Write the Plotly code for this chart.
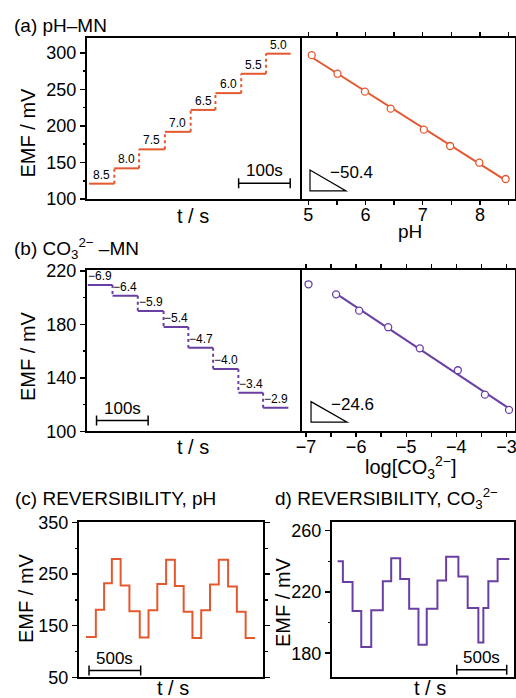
import numpy as np
import plotly.graph_objects as go

FONT = "Liberation Sans, Arial, sans-serif"
ORANGE = "#E5582F"
PURPLE = "#6A3FA3"

# ---------------- data ----------------
# (a) pH step response (time edges in s, EMF levels in mV)
a_edges = [0, 49, 97, 147, 197, 245, 295, 343, 391]
a_levels = [121, 142, 168, 192, 222, 245, 271.5, 299]
a_labels = ["8.5", "8.0", "7.5", "7.0", "6.5", "6.0", "5.5", "5.0"]
# (a) calibration
a_ph = [5.06, 5.51, 5.99, 6.44, 7.02, 7.48, 7.99, 8.45]
a_emf = [297, 271.6, 247, 223.7, 195, 172.6, 149.7, 127.4]

# (b) carbonate step response
b_edges = [0, 48, 97, 147, 195, 243, 292, 340, 389]
b_levels = [209.5, 201.5, 190, 178, 162.6, 146.6, 128.9, 117.7]
b_labels = ["\u22126.9", "\u22126.4", "\u22125.9", "\u22125.4", "\u22124.7", "\u22124.0", "\u22123.4", "\u22122.9"]
# (b) calibration
b_log = [-6.95, -6.40, -5.94, -5.36, -4.73, -3.97, -3.43, -2.95]
b_emf = [210, 202.5, 190.3, 177.9, 162.1, 145.7, 127.4, 116]

# (c) pH reversibility
c_edges = [0, 95, 175, 250, 335, 420, 520, 605, 690, 775, 860, 945, 1030,
           1115, 1200, 1285, 1375, 1460, 1545, 1635]
c_levels = [128, 181, 232, 279, 228, 178, 127, 180, 231, 278, 227, 177, 126,
            180, 230, 278, 226, 177, 126]

# (d) carbonate reversibility
d_edges = [0, 53, 150, 237, 337, 453, 537, 627, 717, 810, 893, 1000, 1087,
           1210, 1303, 1410, 1460, 1510, 1603, 1720]
d_levels = [240, 226.5, 207.5, 184, 208, 227, 242, 228.5, 209, 185.5, 209,
            227.5, 243, 230, 209.5, 187, 209.5, 227, 241.5]

slope_a_text = "\u221250.4"
slope_b_text = "\u221224.6"

# ---------------- layout constants ----------------
W, H = 516, 698
def px(x):
    return x / W
def py(y):
    return 1 - y / H

xa_l = [px(87), px(300)]
xa_r = [px(300), px(514.5)]
ya = [py(199), py(38)]
yb = [py(431.3), py(270)]
xc = [px(79), px(263)]
xd = [px(332), px(514.3)]
ycd = [py(677.3), py(521.7)]

ya_range = [100, 320.5]
yb_range = [100, 220.7]
yc_range = [50, 351.5]
yd_range = [164.3, 265.8]
ta_range = [-4, 409]
tb_range = [-1.5, 411.5]
tc_range = [-68, 1713]
td_range = [-56, 1770]
pha_range = [4.855, 8.605]
logb_range = [-7.12, -2.84]

fig = go.Figure()


def step_traces(edges, levels, color, xa, ya_):
    hx, hy, vx, vy = [], [], [], []
    for i, lv in enumerate(levels):
        hx += [edges[i], edges[i + 1], None]
        hy += [lv, lv, None]
        if i > 0:
            vx += [edges[i], edges[i], None]
            vy += [levels[i - 1], lv, None]
    fig.add_trace(go.Scatter(x=vx, y=vy, mode="lines", xaxis=xa, yaxis=ya_,
                             line=dict(color=color, width=2, dash="dot"), hoverinfo="skip"))
    fig.add_trace(go.Scatter(x=hx, y=hy, mode="lines", xaxis=xa, yaxis=ya_,
                             line=dict(color=color, width=2), hoverinfo="skip"))


step_traces(a_edges, a_levels, ORANGE, "x", "y")
step_traces(b_edges, b_levels, PURPLE, "x3", "y3")

# calibration fits
def calib(xs, ys, color, xa, ya_, start):
    xs = np.array(xs); ys = np.array(ys)
    k, b = np.polyfit(xs[start:], ys[start:], 1)
    xl = np.array([xs[start], xs[-1]])
    fig.add_trace(go.Scatter(x=xl, y=k * xl + b, mode="lines", xaxis=xa, yaxis=ya_,
                             line=dict(color=color, width=2), hoverinfo="skip"))
    fig.add_trace(go.Scatter(x=xs, y=ys, mode="markers", xaxis=xa, yaxis=ya_,
                             marker=dict(symbol="circle", size=7, color="white",
                                         line=dict(color=color, width=1.3)),
                             hoverinfo="skip"))

calib(a_ph, a_emf, ORANGE, "x2", "y2", 0)
calib(b_log, b_emf, PURPLE, "x4", "y4", 1)

# reversibility
fig.add_trace(go.Scatter(x=c_edges, y=c_levels + [c_levels[-1]], mode="lines",
                         line_shape="hv", xaxis="x5", yaxis="y5",
                         line=dict(color=ORANGE, width=2), hoverinfo="skip"))
fig.add_trace(go.Scatter(x=d_edges, y=d_levels + [d_levels[-1]], mode="lines",
                         line_shape="hv", xaxis="x6", yaxis="y6",
                         line=dict(color=PURPLE, width=2), hoverinfo="skip"))

# ---------------- axes ----------------
def base(domain, rng, anchor):
    return dict(domain=domain, range=rng, anchor=anchor, showline=True,
                linecolor="black", linewidth=2, mirror=True, showgrid=False,
                zeroline=False, ticks="", showticklabels=False, fixedrange=True,
                automargin=False)

tickfont = dict(family=FONT, size=18, color="black")

def yticks(d, dtick, tick0, minor, mirror=True):
    d.update(ticks="outside", ticklen=5, tickwidth=1.5, tickcolor="black",
             dtick=dtick, tick0=tick0, showticklabels=True, tickfont=tickfont,
             mirror=mirror, ticklabeloverflow="allow",
             minor=dict(ticks="outside", ticklen=2.5, tickwidth=1.5,
                        tickcolor="black", dtick=minor, tick0=tick0))
    return d

def xticks(d, dtick, tick0, minor):
    d.update(ticks="outside", ticklen=4, tickwidth=1.5, tickcolor="black",
             dtick=dtick, tick0=tick0, showticklabels=True, tickfont=tickfont,
             mirror="ticks", ticklabeloverflow="allow", ticklabelstandoff=-6,
             minor=dict(ticks="outside", ticklen=4, tickwidth=1.5,
                        tickcolor="black", dtick=minor, tick0=tick0))
    return d

def right_only(d):
    d.update(side="right", mirror=False)
    return d

layout_axes = dict(
    xaxis=base(xa_l, ta_range, "y"),
    yaxis=yticks(base(ya, ya_range, "x"), 50, 100, 25),
    xaxis2=xticks(base(xa_r, pha_range, "y2"), 1, 5, 0.5),
    yaxis2=right_only(base(ya, ya_range, "x2")),
    xaxis3=base(xa_l, tb_range, "y3"),
    yaxis3=yticks(base(yb, yb_range, "x3"), 40, 100, 20),
    xaxis4=xticks(base(xa_r, logb_range, "y4"), 1, -7, 0.5),
    yaxis4=right_only(base(yb, yb_range, "x4")),
    xaxis5=base(xc, tc_range, "y5"),
    yaxis5=yticks(base(ycd, yc_range, "x5"), 100, 50, 50, mirror="ticks"),
    xaxis6=base(xd, td_range, "y6"),
    yaxis6=yticks(base(ycd, yd_range, "x6"), 40, 180, 20),
)
layout_axes["xaxis4"]["tickformat"] = "d"

# ---------------- annotations ----------------
ann = []
def txt(x, y, s, size, angle=0, xanchor="center"):
    ann.append(dict(x=x, y=y, xref="paper", yref="paper", text=s, showarrow=False,
                    font=dict(family=FONT, size=size, color="black"),
                    textangle=angle, xanchor=xanchor, yanchor="middle"))

txt(px(12), py(25), "(a) pH\u2013MN", 19, xanchor="left")
txt(px(12), py(248.5), "(b) CO<sub>3</sub><sup>2\u2212</sup> \u2013MN", 19, xanchor="left")
txt(px(12.5), py(498), "(c) REVERSIBILITY, pH", 19, xanchor="left")
txt(px(273), py(498), "d) REVERSIBILITY, CO<sub>3</sub><sup>2\u2212</sup>", 19, xanchor="left")

txt(px(27.5), py(133), "EMF / mV", 20, angle=-90)
txt(px(193), py(216), "t / s", 20)
txt(px(410), py(231.5), "pH", 19)
txt(px(411), py(467), "log[CO<sub>3</sub><sup>2\u2212</sup>]", 20)
txt(px(27.5), py(356.5), "EMF / mV", 20, angle=-90)
txt(px(193), py(447), "t / s", 20)
txt(px(26), py(598), "EMF / mV", 20, angle=-90)
txt(px(173), py(688), "t / s", 20)
txt(px(283), py(602), "EMF / mV", 20, angle=-90)
txt(px(430), py(688), "t / s", 20)

def step_labels(edges, levels, labels, xr, yr):
    for i, lab in enumerate(labels):
        ann.append(dict(x=(edges[i] + edges[i + 1]) / 2, y=levels[i], xref=xr, yref=yr,
                        text=lab, showarrow=False, yanchor="bottom", yshift=0,
                        font=dict(family=FONT, size=12, color="black")))

step_labels(a_edges, a_levels, a_labels, "x", "y")
step_labels(b_edges, b_levels, b_labels, "x3", "y3")

shapes = []
# scale bars: (t_start, length, y)
bars = [("x", "y", 290, 100, 121.5, "100s"),
        ("x3", "y3", 17, 100, 108, "100s"),
        ("x5", "y5", 29, 500, 63, "500s"),
        ("x6", "y6", 1194, 500, 169.3, "500s")]
for xr, yr, t0, ln, yv, lab in bars:
    shapes.append(dict(type="line", xref=xr, yref=yr, x0=t0, x1=t0 + ln, y0=yv, y1=yv,
                       line=dict(color="black", width=1.5)))
    for tt in (t0, t0 + ln):
        shapes.append(dict(type="line", xref=xr, yref=yr, x0=tt, x1=tt,
                           ysizemode="pixel", yanchor=yv, y0=-5, y1=5,
                           line=dict(color="black", width=1.5)))
    ann.append(dict(x=t0 + ln / 2, y=yv, xref=xr, yref=yr, text=lab, showarrow=False,
                    yanchor="bottom", yshift=1,
                    font=dict(family=FONT, size=17, color="black")))

# slope triangles (x0, x1, ytop, ybottom)
tri_a = (5.03, 5.66, 139.7, 111)
tri_b = (-6.90, -6.18, 122.2, 106.8)
for (x0, x1, yt, yb_), xr, yr, lab, lx, ly in [
        (tri_a, "x2", "y2", slope_a_text, 5.35, 136),
        (tri_b, "x4", "y4", slope_b_text, -6.54, 120.4)]:
    shapes.append(dict(type="path", xref=xr, yref=yr,
                       path=f"M {x0},{yt} L {x0},{yb_} L {x1},{yb_} Z",
                       line=dict(color="black", width=1.2)))
    ann.append(dict(x=lx, y=ly, xref=xr, yref=yr, text=lab, showarrow=False,
                    xanchor="left", yanchor="middle",
                    font=dict(family=FONT, size=17, color="black")))

fig.update_layout(width=W, height=H, margin=dict(l=0, r=0, t=0, b=0, pad=0),
                  paper_bgcolor="white", plot_bgcolor="white", showlegend=False,
                  font=dict(family=FONT, color="black"),
                  annotations=ann, shapes=shapes, **layout_axes)

fig.write_html("out.html", config={"displayModeBar": False, "staticPlot": True},
               post_script="document.body.style.margin='0';document.body.style.overflow='hidden';")
